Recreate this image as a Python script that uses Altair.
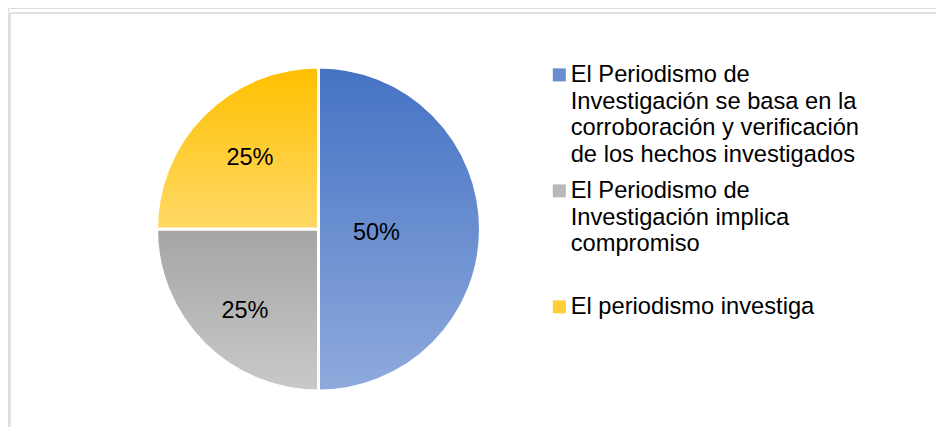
import math
import altair as alt
import pandas as pd

categories = [
    "El Periodismo de\nInvestigación se basa en la\ncorroboración y verificación\nde los hechos investigados",
    "El Periodismo de\nInvestigación implica\ncompromiso",
    "El periodismo investiga",
]
values = [50, 25, 25]
pct_labels = ["50%", "25%", "25%"]
order = [0, 1, 2]

legend_colors = ["#6A8DD0", "#B8B8B8", "#FFCE3A"]
grad_top = ["#4472C4", "#A5A5A5", "#FFC000"]
grad_bottom = ["#8FAADC", "#C9C9C9", "#FFD966"]
label_radius = [58, 104, 97]
label_dy = [3.5, 8, -2]

W, H = 928, 419
CX, CY = 310.5, 221
R = 162
FONT = "Liberation Sans"

df = pd.DataFrame({"category": categories, "value": values,
                   "label": pct_labels, "order": order})

theta_scale = alt.Scale(domain=[0, 100], range=[0, 2 * math.pi])

base = alt.Chart(df).transform_stack(
    stack="value", groupby=[], as_=["v0", "v1"],
    sort=[alt.SortField("order", order="ascending")]
).transform_calculate(mid="(datum.v0 + datum.v1) / 2")

legend_layer = base.mark_arc(radius=R - 2).encode(
    theta=alt.Theta("v0:Q", stack=None, scale=theta_scale),
    theta2="v1:Q",
    color=alt.Color(
        "category:N",
        scale=alt.Scale(domain=categories, range=legend_colors),
        legend=alt.Legend(
            title=None, orient="none", legendX=539, legendY=43,
            symbolType="M-0.93,0.85H1.07V2.85H-0.93Z", symbolSize=169,
            symbolStrokeWidth=0,
            labelFontSize=23.7, labelFont=FONT, labelColor="#000000",
            labelLimit=600, labelExpr="split(datum.label, '\\n')",
            labelBaseline="top", labelOffset=0, rowPadding=0,
            gridAlign="all", padding=0,
        ),
    ),
    x=alt.value(CX), y=alt.value(CY),
)

layers = [legend_layer]
for i in order:
    grad = alt.LinearGradient(
        gradient="linear", x1=0, x2=0, y1=0, y2=1,
        stops=[alt.GradientStop(color=grad_top[i], offset=0),
               alt.GradientStop(color=grad_bottom[i], offset=1)],
    )
    layers.append(
        base.transform_filter(alt.datum.order == i).mark_arc(
            radius=R, fill=grad, stroke="white", strokeWidth=3
        ).encode(
            theta=alt.Theta("v0:Q", stack=None, scale=theta_scale),
            theta2="v1:Q",
            x=alt.value(CX), y=alt.value(CY),
        )
    )
for i in order:
    layers.append(
        base.transform_filter(alt.datum.order == i).mark_text(
            radius=label_radius[i], dy=label_dy[i], fontSize=23.5, font=FONT,
            color="#000000", baseline="middle", align="center"
        ).encode(
            theta=alt.Theta("mid:Q", stack=None, scale=theta_scale),
            text="label:N",
            x=alt.value(CX), y=alt.value(CY),
        )
    )

border = alt.Chart(alt.Data(values=[{"a": 1}]))
layers.append(border.mark_rule(color="#D9D9D9", strokeWidth=1.5).encode(
    x=alt.value(2), y=alt.value(5), y2=alt.value(H)))
layers.append(border.mark_rule(color="#D9D9D9", strokeWidth=1.5).encode(
    x=alt.value(2), x2=alt.value(W), y=alt.value(5)))

chart = alt.layer(*layers).properties(
    width=W, height=H, padding=0, autosize=alt.AutoSizeParams(type="none")
).configure_view(stroke=None).configure(
    font=FONT, style={"guide-label": {"lineHeight": 26.8}}
)

chart.save("out.html", embed_options={"renderer": "svg", "actions": False})
